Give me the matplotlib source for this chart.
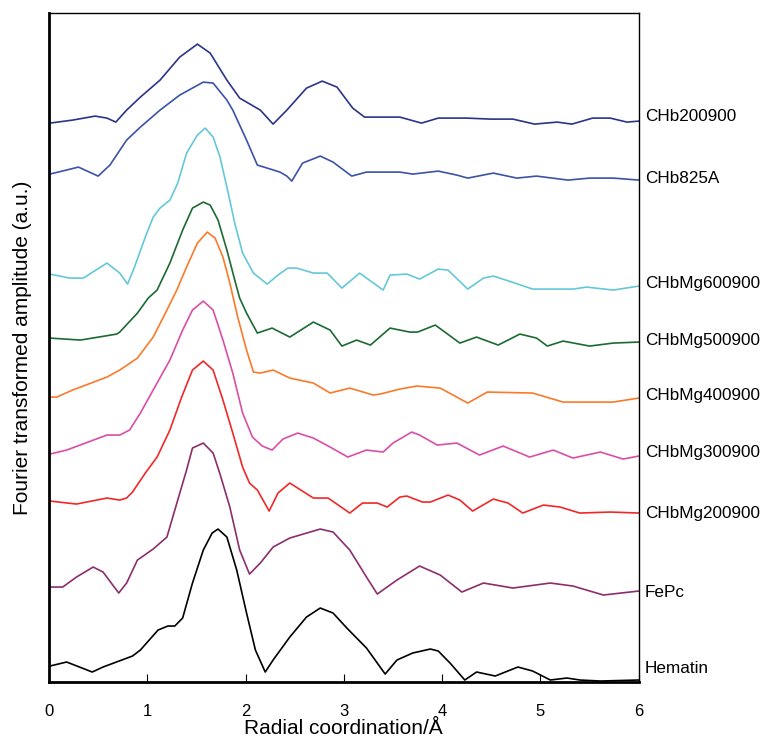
"""
Transformadas de Fourier (EXAFS) - curvas deslocadas verticalmente
"""

import matplotlib.pyplot as plt
import matplotlib

matplotlib.rcParams['font.family'] = ['Liberation Sans', 'DejaVu Sans']

# Hematin
x_hem = [0.01, 0.18, 0.44, 0.55, 0.85, 0.93, 1.11, 1.21, 1.28, 1.36, 1.46, 1.57, 1.66, 1.72, 1.81,
         1.91, 2.01, 2.10, 2.20, 2.28, 2.45, 2.62, 2.76, 2.89, 3.03, 3.23, 3.42, 3.54, 3.70, 3.88,
         3.96, 4.08, 4.23, 4.35, 4.54, 4.77, 4.92, 5.10, 5.27, 5.40, 5.61, 6.0]
y_hem = [0.16, 0.20, 0.10, 0.15, 0.26, 0.32, 0.52, 0.56, 0.56, 0.64, 0.99, 1.32, 1.49, 1.53, 1.45,
         1.12, 0.69, 0.32, 0.10, 0.22, 0.45, 0.65, 0.74, 0.69, 0.54, 0.34, 0.08, 0.22, 0.29, 0.33,
         0.31, 0.19, 0.02, 0.10, 0.06, 0.15, 0.11, 0.02, 0.04, 0.02, 0.01, 0.02]

# FePc
x_fepc = [0.01, 0.14, 0.28, 0.45, 0.55, 0.71, 0.79, 0.90, 1.06, 1.20, 1.31, 1.40, 1.46, 1.57, 1.67,
          1.74, 1.84, 1.94, 2.04, 2.15, 2.28, 2.45, 2.76, 2.89, 3.06, 3.23, 3.34, 3.54, 3.77, 3.98,
          4.20, 4.42, 4.72, 5.10, 5.33, 5.64, 6.0]
y_fepc = [0.95, 0.95, 1.05, 1.15, 1.10, 0.89, 0.99, 1.22, 1.33, 1.45, 1.82, 2.12, 2.34, 2.39, 2.29,
          2.08, 1.75, 1.32, 1.08, 1.19, 1.35, 1.44, 1.53, 1.50, 1.32, 1.05, 0.88, 1.02, 1.16, 1.07,
          0.90, 0.99, 0.94, 0.99, 0.96, 0.87, 0.91]

# CHbMg200900
x_mg2 = [0.01, 0.28, 0.59, 0.72, 0.79, 0.85, 0.98, 1.10, 1.23, 1.35, 1.46, 1.57, 1.67, 1.77, 1.87,
         1.97, 2.04, 2.12, 2.24, 2.33, 2.45, 2.69, 2.84, 3.06, 3.19, 3.34, 3.44, 3.57, 3.64, 3.80,
         3.88, 4.06, 4.18, 4.31, 4.52, 4.67, 4.82, 5.03, 5.20, 5.40, 5.71, 6.0]
y_mg2 = [1.81, 1.78, 1.84, 1.82, 1.84, 1.90, 2.09, 2.25, 2.52, 2.85, 3.12, 3.21, 3.12, 2.82, 2.49,
         2.15, 1.99, 1.92, 1.71, 1.89, 1.99, 1.84, 1.84, 1.69, 1.79, 1.79, 1.75, 1.85, 1.86, 1.80,
         1.80, 1.87, 1.82, 1.71, 1.83, 1.79, 1.69, 1.77, 1.75, 1.69, 1.70, 1.69]

# CHbMg300900
x_mg3 = [0.01, 0.18, 0.59, 0.72, 0.82, 0.93, 1.06, 1.23, 1.36, 1.46, 1.57, 1.67, 1.77, 1.87, 1.97,
         2.07, 2.17, 2.27, 2.38, 2.53, 2.69, 2.86, 3.04, 3.23, 3.40, 3.50, 3.69, 3.77, 3.95, 4.15,
         4.38, 4.62, 4.89, 5.13, 5.33, 5.61, 5.84, 6.0]
y_mg3 = [2.28, 2.32, 2.47, 2.47, 2.52, 2.69, 2.92, 3.22, 3.52, 3.72, 3.81, 3.72, 3.42, 3.09, 2.69,
         2.45, 2.36, 2.32, 2.43, 2.49, 2.44, 2.35, 2.25, 2.32, 2.30, 2.39, 2.50, 2.47, 2.37, 2.39,
         2.27, 2.36, 2.25, 2.32, 2.24, 2.30, 2.23, 2.26]

# CHbMg400900
x_mg4 = [0.01, 0.08, 0.24, 0.59, 0.72, 0.90, 1.06, 1.20, 1.30, 1.40, 1.51, 1.61, 1.69, 1.77, 1.84,
         1.92, 2.01, 2.08, 2.15, 2.28, 2.45, 2.69, 2.86, 3.06, 3.30, 3.37, 3.57, 3.74, 3.98, 4.26,
         4.46, 4.92, 5.23, 5.74, 6.0]
y_mg4 = [2.85, 2.85, 2.92, 3.05, 3.12, 3.24, 3.45, 3.72, 3.92, 4.15, 4.39, 4.50, 4.44, 4.25, 3.99,
         3.65, 3.32, 3.10, 3.09, 3.12, 3.04, 2.99, 2.89, 2.94, 2.87, 2.88, 2.93, 2.96, 2.94, 2.79,
         2.90, 2.89, 2.80, 2.80, 2.84]

# CHbMg500900
x_mg5 = [0.01, 0.32, 0.69, 0.72, 0.90, 1.01, 1.10, 1.23, 1.36, 1.46, 1.57, 1.64, 1.72, 1.81, 1.89,
         1.94, 2.01, 2.12, 2.27, 2.45, 2.69, 2.86, 2.98, 3.13, 3.27, 3.47, 3.67, 3.75, 3.93, 4.18,
         4.35, 4.57, 4.79, 4.96, 5.07, 5.23, 5.50, 5.74, 6.0]
y_mg5 = [3.44, 3.42, 3.48, 3.50, 3.69, 3.84, 3.92, 4.19, 4.52, 4.74, 4.80, 4.77, 4.62, 4.32, 4.02,
         3.84, 3.69, 3.49, 3.54, 3.45, 3.60, 3.52, 3.36, 3.42, 3.37, 3.54, 3.50, 3.50, 3.57, 3.39,
         3.45, 3.37, 3.48, 3.44, 3.36, 3.41, 3.36, 3.39, 3.40]

# CHbMg600900
x_mg6 = [0.01, 0.21, 0.35, 0.59, 0.72, 0.80, 0.87, 0.98, 1.06, 1.13, 1.23, 1.31, 1.40, 1.51, 1.59,
         1.67, 1.74, 1.81, 1.89, 1.97, 2.08, 2.22, 2.33, 2.43, 2.52, 2.69, 2.83, 2.98, 3.16, 3.40,
         3.47, 3.64, 3.77, 3.96, 4.06, 4.26, 4.42, 4.52, 4.71, 4.92, 5.33, 5.47, 5.74, 6.0]
y_mg6 = [4.08, 4.04, 4.04, 4.19, 4.09, 3.98, 4.15, 4.45, 4.65, 4.74, 4.82, 4.99, 5.29, 5.47, 5.54,
         5.45, 5.25, 4.95, 4.59, 4.29, 4.09, 3.98, 4.07, 4.14, 4.14, 4.09, 4.09, 3.94, 4.09, 3.92,
         4.07, 4.08, 4.03, 4.13, 4.12, 3.93, 4.04, 4.06, 4.00, 3.93, 3.93, 3.95, 3.92, 3.96]

# CHb825A
x_825 = [0.01, 0.30, 0.50, 0.62, 0.79, 0.93, 1.13, 1.33, 1.57, 1.67, 1.81, 1.87, 2.01, 2.12, 2.22,
         2.35, 2.42, 2.47, 2.58, 2.76, 2.89, 3.08, 3.23, 3.57, 3.70, 3.96, 4.15, 4.26, 4.52, 4.76,
         4.96, 5.28, 5.50, 5.74, 6.0]
y_825 = [5.08, 5.15, 5.06, 5.17, 5.42, 5.55, 5.72, 5.87, 6.00, 5.99, 5.82, 5.72, 5.42, 5.17, 5.14,
         5.10, 5.06, 5.01, 5.19, 5.26, 5.20, 5.06, 5.10, 5.10, 5.08, 5.11, 5.07, 5.04, 5.09, 5.04,
         5.06, 5.02, 5.04, 5.04, 5.02]

# CHb200900
x_200 = [0.01, 0.24, 0.47, 0.59, 0.68, 0.79, 0.93, 1.13, 1.33, 1.51, 1.64, 1.81, 1.94, 2.15, 2.28,
         2.42, 2.62, 2.78, 2.93, 3.09, 3.21, 3.44, 3.57, 3.79, 3.96, 4.25, 4.49, 4.72, 4.94, 5.17,
         5.32, 5.53, 5.71, 5.88, 6.0]
y_200 = [5.59, 5.62, 5.66, 5.64, 5.60, 5.72, 5.85, 6.02, 6.25, 6.38, 6.29, 6.02, 5.84, 5.72, 5.58,
         5.72, 5.94, 6.01, 5.95, 5.74, 5.65, 5.65, 5.65, 5.59, 5.64, 5.64, 5.63, 5.63, 5.58, 5.60,
         5.58, 5.64, 5.64, 5.60, 5.61]

nomes = ['CHb200900', 'CHb825A', 'CHbMg600900', 'CHbMg500900', 'CHbMg400900',
         'CHbMg300900', 'CHbMg200900', 'FePc', 'Hematin']
label_y = [5.66, 5.04, 3.99, 3.42, 2.87, 2.30, 1.69, 0.90, 0.14]
cores = ['#2b3488', '#3b52a8', '#64c8d8', '#1c6a32', '#fa7a2a',
         '#da4ea6', '#f02828', '#8c2e6c', '#000000']
series = [(x_200, y_200), (x_825, y_825), (x_mg6, y_mg6), (x_mg5, y_mg5), (x_mg4, y_mg4),
          (x_mg3, y_mg3), (x_mg2, y_mg2), (x_fepc, y_fepc), (x_hem, y_hem)]

fig = plt.figure(figsize=(7.65, 7.37), dpi=100)
ax = fig.add_axes([0.064, 0.0746, 0.771, 0.9076])

for (xs, ys), cor, nome, ylab in zip(series, cores, nomes, label_y):
    ax.plot(xs, ys, color=cor, linewidth=1.2)
    ax.text(1.01, ylab, nome, transform=ax.get_yaxis_transform(),
            fontsize=12.3, va='center', ha='left')

ax.set_xlim(0, 6)
ax.set_ylim(0, 6.69)
ax.set_xticks(range(7))
ax.set_yticks([])
ax.tick_params(axis='x', direction='in', length=6, labelsize=12, pad=16)
ax.set_xlabel('Radial coordination/Å', fontsize=15, labelpad=0)
ax.set_ylabel('Fourier transformed amplitude (a.u.)', fontsize=15, labelpad=12)

ax.spines['left'].set_linewidth(2)
ax.spines['bottom'].set_linewidth(2)
ax.spines['top'].set_linewidth(1)
ax.spines['right'].set_linewidth(1)

plt.savefig('out.png', dpi=100)
plt.close()
